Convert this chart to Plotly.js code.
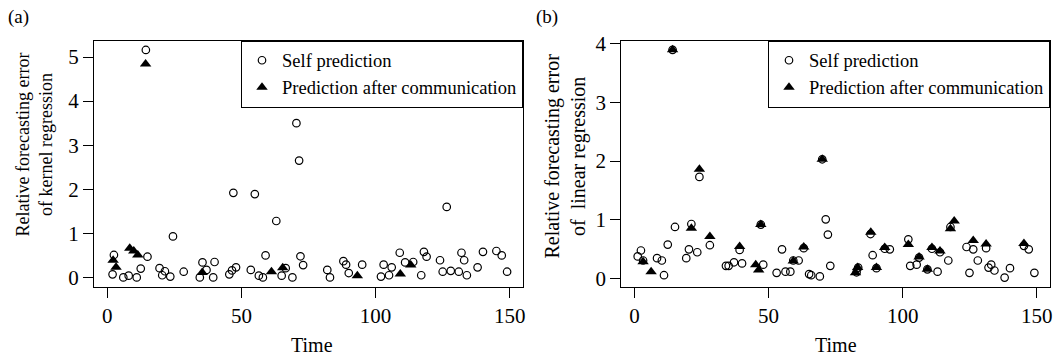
<!DOCTYPE html>
<html>
<head>
<meta charset="utf-8">
<script src="https://cdn.plot.ly/plotly-3.0.1.min.js"></script>
<style>html,body{margin:0;padding:0;background:#fff;}#chart{width:1063px;height:360px;}</style>
</head>
<body>
<div id="chart"></div>
<script>
// ---- Panel (a): kernel regression ----
const kernelSelfTime = [2,2.5,6,8,11,12.5,14.4,15,19.5,20.5,21.5,23.5,24.5,28.5,34.5,35.5,37,39.5,40,45.5,46.5,47,48,53.5,55,56.5,58,59,63,65,66.5,69,70.5,71.5,72,73,82,83,88,89,90,95,102,103,105,106,109,111,114,117,118,119,124,125,126.5,128,131,132,133,134,138,140,145,147,149];
const kernelSelfErr  = [0.07,0.51,0,0.04,0,0.2,5.16,0.47,0.21,0.05,0.14,0.02,0.93,0.13,0,0.34,0.17,0,0.35,0.07,0.16,1.92,0.23,0.17,1.89,0.04,0,0.5,1.28,0.04,0.21,0,3.5,2.65,0.48,0.28,0.17,0,0.37,0.29,0.1,0.29,0.02,0.29,0.05,0.23,0.56,0.34,0.35,0.05,0.58,0.47,0.39,0.13,1.6,0.15,0.13,0.56,0.39,0.05,0.23,0.58,0.6,0.5,0.13];
const kernelCommTime = [2.2,3.3,8.4,9.9,11.4,14.3,35.4,61.2,65.4,93.2,109.2,113.1];
const kernelCommErr  = [0.39,0.23,0.66,0.6,0.51,4.84,0.11,0.13,0.22,0.04,0.08,0.28];

// ---- Panel (b): linear regression ----
const linearSelfTime = [1.2,2.4,3.2,8.4,10.2,11,12.4,14.2,15.1,19.3,20.3,21.2,23.4,24.2,28.1,34.1,35.1,37.1,39.2,40.1,47.1,48,53,55,56.3,58.1,59.2,61.2,63.1,65.1,65.9,69.1,70,71.3,72.1,73,82.8,83.4,88,88.8,90.2,93.3,95.2,102.1,102.8,105.2,106.1,109.2,110.9,113,113.9,117,117.8,123.8,124.9,126.3,128,131.1,132,133,134.2,138,140,145.2,147,149.1];
const linearSelfErr  = [0.38,0.48,0.31,0.35,0.31,0.06,0.58,3.89,0.88,0.35,0.5,0.93,0.45,1.73,0.57,0.22,0.22,0.28,0.49,0.26,0.92,0.24,0.1,0.5,0.12,0.12,0.31,0.31,0.52,0.08,0.06,0.04,2.03,1.01,0.75,0.22,0.11,0.19,0.76,0.4,0.18,0.51,0.5,0.67,0.22,0.24,0.36,0.16,0.51,0.12,0.45,0.31,0.88,0.54,0.1,0.5,0.31,0.52,0.19,0.24,0.14,0.02,0.18,0.56,0.5,0.1];
const linearCommTime = [3.2,6.2,14.2,21.2,24.2,28.1,39.2,45.2,46.3,47.1,59.2,63.1,70,82.4,83.2,88.1,90.2,93.3,102.1,106.1,109.2,110.9,113.9,117.8,119.2,126.3,131.1,145.2];
const linearCommErr  = [0.29,0.12,3.89,0.86,1.86,0.72,0.55,0.24,0.15,0.92,0.3,0.54,2.03,0.1,0.19,0.79,0.19,0.53,0.58,0.37,0.16,0.53,0.47,0.85,0.98,0.65,0.59,0.6];

const xTicks = [0,50,100,150];
const yTicksA = [0,1,2,3,4,5];
const yTicksB = [0,1,2,3,4];
const seriesNames = ['Self prediction','Prediction after communication'];

const FONT = '"Liberation Serif", "Times New Roman", serif';
const W = 1063, H = 360;
const px = v => v / W;
const py = v => 1 - v / H;

const circ = {symbol:'circle-open', size:7.5, color:'#000', line:{width:1.2, color:'#000'}};
const tri = {symbol:'triangle-up', size:10, color:'#000', line:{width:0}};

const traces = [
  {x:kernelSelfTime, y:kernelSelfErr, type:'scatter', mode:'markers', name:seriesNames[0], marker:circ, xaxis:'x', yaxis:'y', legend:'legend'},
  {x:kernelCommTime, y:kernelCommErr, type:'scatter', mode:'markers', name:seriesNames[1], marker:tri, xaxis:'x', yaxis:'y', legend:'legend'},
  {x:linearSelfTime, y:linearSelfErr, type:'scatter', mode:'markers', name:seriesNames[0], marker:circ, xaxis:'x2', yaxis:'y2', legend:'legend2'},
  {x:linearCommTime, y:linearCommErr, type:'scatter', mode:'markers', name:seriesNames[1], marker:tri, xaxis:'x2', yaxis:'y2', legend:'legend2'}
];

const axisCommon = {
  showline:true, mirror:true, linecolor:'#000', linewidth:1,
  ticks:'outside', ticklen:10, tickwidth:1, tickcolor:'#000',
  showgrid:false, zeroline:false, automargin:false,
  tickfont:{family:FONT, size:21, color:'#000'}
};

const legendCommon = {
  bgcolor:'#fff', bordercolor:'#000', borderwidth:1,
  font:{family:FONT, size:18.5, color:'#000'},
  xanchor:'right', yanchor:'top', y:py(40.7),
  itemwidth:30, tracegroupgap:0
};

const layout = {
  width:W, height:H,
  margin:{l:0, r:0, t:0, b:0, pad:0},
  paper_bgcolor:'#fff', plot_bgcolor:'#fff',
  showlegend:true,
  font:{family:FONT, color:'#000'},
  xaxis:Object.assign({}, axisCommon, {domain:[px(94), px(523)], range:[-4.92,154.92], tickvals:xTicks, anchor:'y'}),
  yaxis:Object.assign({}, axisCommon, {domain:[py(286.7), py(40.7)], range:[-0.21,5.37], tickvals:yTicksA, anchor:'x'}),
  xaxis2:Object.assign({}, axisCommon, {domain:[px(621.3), px(1050)], range:[-4.92,154.92], tickvals:xTicks, anchor:'y2'}),
  yaxis2:Object.assign({}, axisCommon, {domain:[py(286.7), py(40.7)], range:[-0.135,4.045], tickvals:yTicksB, anchor:'x2'}),
  legend:Object.assign({}, legendCommon, {x:px(523)}),
  legend2:Object.assign({}, legendCommon, {x:px(1050)}),
  annotations:[
    {text:'(a)', xref:'paper', yref:'paper', x:px(6), y:py(17), xanchor:'left', yanchor:'middle', showarrow:false, font:{family:FONT, size:19}},
    {text:'(b)', xref:'paper', yref:'paper', x:px(534), y:py(17), xanchor:'left', yanchor:'middle', showarrow:false, font:{family:FONT, size:19}},
    {text:'Relative forecasting error<br>of kernel regression', xref:'paper', yref:'paper', x:px(34), y:py(144.5), xanchor:'center', yanchor:'middle', textangle:-90, showarrow:false, font:{family:FONT, size:18}},
    {text:'Relative forecasting error<br>of  linear regression', xref:'paper', yref:'paper', x:px(564.5), y:py(156), xanchor:'center', yanchor:'middle', textangle:-90, showarrow:false, font:{family:FONT, size:20}},
    {text:'Time', xref:'paper', yref:'paper', x:px(311.5), y:py(345), xanchor:'center', yanchor:'middle', showarrow:false, font:{family:FONT, size:20}},
    {text:'Time', xref:'paper', yref:'paper', x:px(836), y:py(345), xanchor:'center', yanchor:'middle', showarrow:false, font:{family:FONT, size:20}}
  ]
};

Plotly.newPlot('chart', traces, layout, {displayModeBar:false, staticPlot:true});
</script>
</body>
</html>
